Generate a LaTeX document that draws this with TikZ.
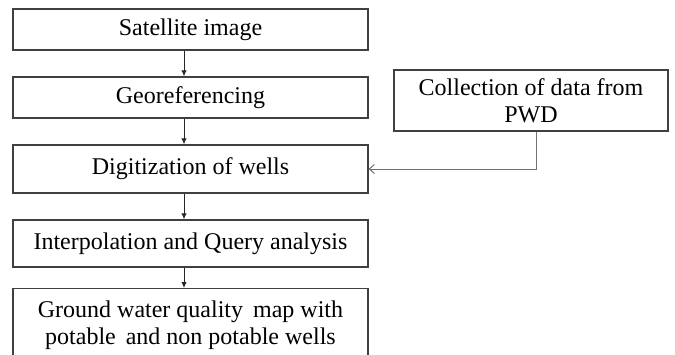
\documentclass[tikz,border=0pt]{standalone}
\usepackage{fontspec}
\setmainfont{Liberation Serif}
\usetikzlibrary{arrows.meta}
\begin{document}
\begin{tikzpicture}[x=1pt,y=-1pt,>=latex,
  box/.style={draw=black!75,line width=1.3pt,inner sep=0pt,
    font=\fontsize{24}{27}\selectfont,align=center},
  step box/.style={box,minimum width=355pt},
  link/.style={draw=black!85,line width=1pt,-{Latex[length=6pt,width=5.5pt]}}]
\useasboundingbox (0,0) rectangle (675,354);
\node[step box,minimum height=41pt] (sat) at (190.5,29.5) {Satellite image};
\node[step box,minimum height=41pt] (geo) at (190.5,97.5) {Georeferencing};
\node[step box,minimum height=48pt] (dig) at (190.5,169) {\raisebox{-3pt}{Digitization of wells}};
\node[step box,minimum height=47pt] (interp) at (190.5,243.5) {Interpolation and Query analysis};
\node[step box,minimum height=74pt,anchor=north] (gwq) at (190.5,288)
	{Ground water quality\, map with\\potable\, and non potable wells};
\node[box,minimum width=274pt,minimum height=61pt] (pwd) at (531,100.5)
	{Collection of data from\\PWD};
\draw[link] ([xshift=-6.5pt]sat.south) -- ([xshift=-6.5pt]geo.north);
\draw[link] ([xshift=-6.5pt]geo.south) -- ([xshift=-6.5pt]dig.north);
\draw[link] ([xshift=-6.5pt]dig.south) -- ([xshift=-6.5pt]interp.north);
\draw[link] ([xshift=-6.5pt]interp.south) -- ([xshift=-6.5pt]gwq.north);
\draw[draw=black!55,line width=1pt,-{Straight Barb[length=5pt,width=9pt]}]
	([xshift=5pt]pwd.south) |- (dig.east);
\end{tikzpicture}
\end{document}
